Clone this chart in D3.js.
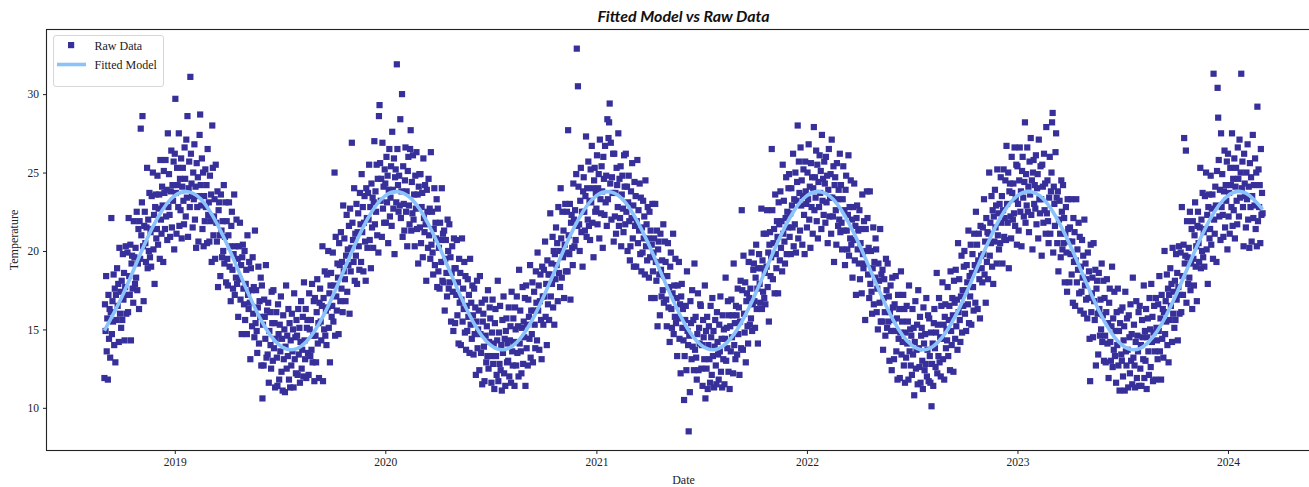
<!DOCTYPE html>
<html><head><meta charset="utf-8">
<script src="https://cdn.jsdelivr.net/npm/d3@7"></script>
<style>body{margin:0;background:#fff}svg{display:block}</style>
</head><body><svg id="c" width="1309" height="487"></svg>
<script>
// ---- DATA ----
// Raw daily temperatures, one inner array per month.
const raw2018 = [ // Sep..Dec 2018
[11.9,16.6,14.9,18.4,13.6,15.7,11.8,17.2,14.4,16.3,13.2,16.1,22.1,14.7,16.8,15.5,18.5,14.0,17.6,12.9,17.2,15.6,18.9,16.5,17.9,14.2,20.2,16.0,17.4,15.1],
[18.1,15.6,19.8,16.9,18.6,14.3,17.7,20.3,16.0,17.2,19.9,16.1,22.1,18.4,17.2,20.4,14.3,19.2,19.7,17.6,16.7,21.9,19.6,17.9,20.2,18.3,22.5,17.5,19.2,21.4,16.3],
[21.9,19.5,27.8,21.0,23.1,28.6,20.3,16.8,21.6,22.5,20.5,19.3,21.5,25.3,18.9,22.0,20.0,23.7,19.6,21.2,19.0,23.5,21.4,25.0,20.1,22.3,17.9,22.8,23.6,20.8],
[21.4,24.8,20.4,22.7,23.6,19.5,25.8,22.0,21.1,24.1,22.9,19.3,25.1,23.7,21.4,25.8,22.2,23.9,20.7,27.5,22.8,24.9,22.3,20.9,23.8,26.4,21.5,24.2,23.2,25.7,20.1]
];
const raw2019 = [
[26.2,29.7,23.7,21.1,25.3,24.2,22.8,27.5,21.6,24.6,22.6,25.9,20.8,24.1,25.3,23.2,21.7,26.6,24.6,22.2,27.1,23.4,28.6,20.9,24.0,25.7,22.8,31.1,26.2,24.3,23.5],
[21.5,25.0,23.3,26.8,22.0,24.1,20.2,25.6,22.8,24.7,20.6,23.5,27.4,28.7,24.2,22.9,25.9,21.4,25.0,20.3,23.5,21.9,25.2,22.8,24.2,20.5,26.5,22.3],
[23.1,20.6,24.8,21.9,23.6,19.3,28.0,25.3,21.0,22.2,23.3,19.5,25.5,21.8,20.6,23.8,17.7,22.6,23.1,21.0,18.4,23.6,21.3,19.6,21.9,20.0,24.2,19.2,20.9,23.1,18.0],
[21.9,19.5,17.8,21.0,23.1,19.0,20.3,16.8,21.6,22.5,18.8,17.6,19.8,23.6,17.2,20.3,18.3,22.0,17.9,19.5,15.8,20.3,18.2,21.8,16.9,19.1,14.7,19.6,20.4,17.6],
[16.6,20.0,15.6,17.9,18.8,14.7,21.0,17.2,16.3,19.3,16.7,13.1,18.9,17.5,15.2,19.6,16.0,17.7,14.5,21.3,15.4,17.5,14.9,13.5,16.4,19.0,14.1,16.8,15.8,18.3,12.7],
[17.8,10.6,15.3,12.7,16.9,15.8,14.4,19.1,13.2,16.2,13.4,16.7,11.6,14.9,16.1,14.0,12.5,17.4,15.4,13.0,17.5,13.8,15.4,11.3,14.4,16.1,13.2,11.4,16.6,14.7],
[11.8,15.3,13.6,17.1,12.3,14.4,11.1,15.9,13.1,15.0,11.0,13.9,17.8,12.5,14.6,13.3,16.3,11.8,15.4,11.3,14.3,12.7,16.0,13.6,15.0,11.3,17.3,13.1,14.5,12.2,15.6],
[14.6,12.1,16.3,13.4,15.1,11.6,14.2,16.8,12.5,13.7,15.8,12.0,18.0,14.3,13.1,16.3,11.9,15.1,15.6,13.5,12.1,17.3,15.0,13.3,15.6,13.7,17.9,12.9,14.6,16.8,11.7],
[17.0,14.6,12.9,16.1,18.2,14.1,15.4,11.9,16.7,17.6,15.5,14.3,16.5,20.3,11.7,17.0,15.0,18.7,14.6,16.2,14.0,18.5,16.4,20.0,15.1,17.3,12.9,17.8,18.6,15.8],
[16.5,19.9,15.5,17.8,25.0,14.6,20.9,17.1,16.2,19.2,18.3,14.7,20.5,19.1,16.8,21.2,17.6,19.3,16.1,22.9,18.7,20.8,18.2,16.8,19.7,22.3,17.4,20.1,19.1,21.6,16.0],
[22.7,18.7,20.2,26.9,21.8,20.7,19.3,24.0,18.1,21.1,19.7,23.0,17.9,21.2,22.4,20.3,18.8,23.7,21.7,19.3,24.9,21.2,22.8,18.7,21.8,23.5,20.6,18.1,24.0,22.1],
[20.2,23.7,22.0,25.5,20.7,22.8,18.9,24.3,21.5,23.4,20.2,23.1,27.0,21.7,23.8,22.5,25.5,21.0,24.6,19.9,28.6,29.3,25.6,23.2,24.6,20.9,26.9,22.7,24.1,21.8,25.2]
];
const raw2020 = [
[24.3,21.8,26.0,23.1,24.8,20.5,23.9,26.5,22.2,23.4,25.4,21.6,27.6,23.9,22.7,25.9,19.8,24.7,25.2,23.1,31.9,26.5,24.2,22.5,24.8,22.9,28.4,22.1,23.8,30.0,20.9],
[25.4,23.0,21.3,24.5,26.6,22.5,23.8,20.3,25.1,26.0,22.9,21.7,26.5,27.7,21.3,24.4,22.4,26.1,22.0,23.6,20.3,24.8,22.7,26.3,21.4,23.6,19.2,24.1,24.9],
[21.5,24.9,20.5,22.8,23.7,19.6,25.9,22.1,21.2,24.2,21.7,18.1,23.9,22.5,20.2,24.6,21.0,22.7,19.5,26.3,20.4,22.5,19.9,18.5,21.4,24.0,19.1,21.8,20.8,23.3,17.7],
[22.7,18.7,20.2,17.6,21.8,20.7,19.3,24.0,18.1,21.1,18.0,21.3,16.2,19.5,20.7,18.6,17.1,22.0,20.0,17.6,21.7,18.0,19.6,15.5,18.6,20.3,17.4,14.9,20.8,18.9],
[15.4,18.9,17.2,20.7,15.9,18.0,14.1,19.5,16.7,18.6,14.0,16.9,20.8,15.5,17.6,16.3,19.3,14.8,18.4,13.7,16.5,14.9,18.2,15.8,17.2,13.5,19.5,15.3,16.7,14.4,17.8],
[15.9,13.4,17.6,14.7,16.4,12.1,15.5,18.1,13.8,15.0,16.2,12.4,18.4,14.7,13.5,16.7,11.5,15.5,16.0,13.9,11.7,16.9,14.6,12.9,15.2,13.3,17.5,12.5,14.2,16.4],
[15.7,13.3,11.6,14.8,16.9,12.8,14.1,11.2,15.4,16.3,13.3,12.1,14.3,18.1,11.7,14.8,12.8,16.5,12.4,14.0,11.1,15.6,13.5,17.1,12.2,14.4,11.4,14.9,15.7,12.9,14.1],
[13.0,16.4,12.0,14.3,15.2,11.6,17.4,13.6,12.7,15.7,14.2,11.4,16.4,15.0,12.7,17.1,13.5,15.2,12.0,18.8,14.1,16.2,13.6,12.2,15.1,17.7,12.8,15.5,14.5,17.0,11.4],
[17.8,13.8,15.3,12.7,16.9,15.8,14.4,19.1,13.2,16.2,14.7,18.0,12.9,16.2,17.4,15.3,13.8,18.7,16.7,14.3,19.9,16.2,17.8,13.7,16.8,18.5,15.6,13.1,19.0,17.1],
[15.3,18.8,17.1,20.6,15.8,17.9,14.0,19.4,16.6,18.5,15.6,18.5,22.4,17.1,19.2,17.9,20.9,16.4,20.0,15.3,19.8,18.2,21.5,19.1,20.5,16.8,22.8,18.6,20.0,17.7,24.0],
[20.8,18.3,22.5,19.6,21.3,17.0,20.4,23.0,18.7,19.9,22.5,18.7,27.7,21.0,19.8,23.0,16.9,21.8,22.3,20.2,19.1,24.3,22.0,20.3,22.6,20.7,24.9,32.9,21.6,30.5],
[24.1,21.7,20.0,23.2,25.3,21.2,22.5,19.0,23.8,24.7,22.5,21.3,23.5,27.3,20.9,24.0,22.0,25.7,21.6,23.2,20.7,25.2,23.1,26.7,21.8,24.0,19.6,24.5,25.3,22.5,23.7]
];
const raw2021 = [
[22.7,26.1,21.7,24.0,24.9,20.8,27.1,23.3,22.4,25.4,23.8,20.2,26.0,24.6,22.3,26.7,23.1,24.8,21.6,28.4,23.3,27.2,28.2,29.4,24.3,26.9,22.0,24.7,23.7,26.2,20.6],
[26.2,22.2,23.7,21.1,25.3,24.2,22.8,27.5,21.6,24.6,22.1,25.4,20.3,23.6,24.8,22.7,21.2,26.1,24.1,21.7,26.2,22.5,24.1,20.0,23.1,24.8,21.9,19.4],
[20.3,23.8,22.1,25.6,20.8,22.9,19.0,24.4,21.6,23.5,19.0,21.9,25.8,20.5,22.6,21.3,24.3,19.8,23.4,18.7,21.5,19.9,23.2,20.8,22.2,18.5,24.5,20.3,21.7,19.4,22.8],
[20.8,18.3,22.5,19.6,21.3,17.0,20.4,23.0,18.7,19.9,20.8,17.0,23.0,19.3,18.1,21.3,15.2,20.1,20.6,18.5,15.9,21.1,18.8,17.1,19.4,17.5,21.7,16.7,18.4,20.6],
[19.3,16.9,15.2,18.4,20.5,16.4,17.7,14.2,19.0,19.9,16.3,15.1,17.3,21.1,14.7,17.8,15.8,19.5,15.4,17.0,13.3,17.8,15.7,19.3,14.4,16.6,12.2,17.1,17.9,15.1,16.3],
[14.3,10.5,13.3,15.6,16.5,12.4,18.7,14.9,14.0,8.5,14.6,11.0,16.8,15.4,13.1,17.5,13.9,15.6,12.4,19.2,13.7,15.8,13.2,11.8,14.7,17.3,12.4,15.1,14.1,16.6],
[16.5,12.5,14.0,11.4,15.6,14.5,13.1,17.8,10.6,14.9,12.5,15.8,11.2,14.0,15.2,13.1,11.6,16.5,14.5,12.1,17.0,13.3,14.9,11.3,13.9,15.6,12.7,11.5,16.1,14.2,13.4],
[11.8,15.3,13.6,17.1,12.3,14.4,11.3,15.9,13.1,15.0,11.5,14.4,18.3,13.0,15.1,13.8,16.8,12.3,15.9,11.2,15.2,13.6,16.9,14.5,15.9,12.2,19.2,14.0,15.4,13.1,16.5],
[15.9,13.4,17.6,14.7,16.4,12.1,15.5,18.1,13.8,22.6,17.5,13.7,19.7,16.0,14.8,18.0,12.9,16.8,17.3,15.2,14.1,19.3,17.0,15.3,17.6,15.7,19.9,14.9,16.6,18.8],
[19.2,16.8,15.1,18.3,20.4,16.3,17.6,14.1,18.9,19.8,17.9,16.7,18.9,22.7,16.3,19.4,17.4,21.1,17.0,18.6,16.6,21.1,19.0,22.6,17.7,19.9,15.5,20.4,21.2,18.4,19.6],
[26.5,22.6,18.2,20.5,21.4,17.3,23.6,19.8,18.9,21.9,20.9,17.3,23.1,21.7,19.4,23.8,20.2,21.9,18.7,25.5,21.1,23.2,20.6,19.2,22.1,24.7,19.8,22.5,21.5,24.0],
[24.9,20.9,22.4,19.8,24.0,22.9,21.5,26.2,20.3,23.3,21.7,25.0,19.9,23.2,24.4,28.0,20.8,25.7,23.7,21.3,26.6,22.9,24.5,20.4,23.5,25.2,22.3,19.8,25.7,23.8,23.0]
];
const raw2022 = [
[21.5,25.0,23.3,26.8,22.0,24.1,20.2,25.6,22.8,24.7,21.1,24.0,27.9,22.6,24.7,23.4,26.4,21.9,25.5,20.8,24.4,22.8,26.1,23.7,25.1,21.4,27.4,23.2,24.6,22.3,25.7],
[24.3,21.8,26.0,23.1,24.8,20.5,23.9,26.5,22.2,23.4,24.9,21.1,27.1,23.4,22.2,25.4,19.3,24.2,24.7,22.6,20.4,25.6,23.3,21.6,23.9,22.0,26.2,21.2],
[24.2,21.8,20.1,23.3,25.4,21.3,22.6,19.1,23.9,24.8,21.3,20.1,22.3,26.1,19.7,22.8,20.8,24.5,20.4,22.0,18.3,22.8,20.7,24.3,19.4,21.6,17.2,22.1,22.9,20.1,21.3],
[19.2,22.6,18.2,20.5,21.4,17.3,23.6,19.8,18.9,21.9,19.2,15.6,21.4,20.0,23.8,22.1,18.5,20.2,17.0,23.8,17.9,20.0,17.4,16.0,18.9,21.5,16.6,19.3,18.3,20.8],
[20.1,16.1,17.6,15.0,19.2,18.1,16.7,21.4,15.5,18.5,15.5,18.8,13.7,17.0,18.2,16.1,14.6,19.5,17.5,15.1,19.2,15.5,17.1,13.0,16.1,17.8,14.9,12.4,18.3,16.4,15.6],
[13.1,16.6,14.9,18.4,13.6,15.7,11.8,17.2,14.4,16.3,11.9,14.8,18.7,13.4,15.5,14.2,17.2,12.7,16.3,11.6,14.8,13.2,16.5,14.1,15.5,11.8,17.8,13.6,15.0,12.7],
[14.6,12.1,16.3,13.4,15.1,10.8,14.2,16.8,12.5,13.7,15.3,11.5,17.5,13.8,12.6,15.8,11.6,14.6,15.1,13.0,11.2,16.4,14.1,12.4,14.7,12.8,17.0,12.0,13.7,15.9,11.7],
[15.7,13.3,11.6,14.8,10.1,12.8,14.1,11.4,15.4,16.3,13.8,12.6,14.8,18.6,12.2,15.3,13.3,17.0,12.9,14.5,12.0,16.5,14.4,18.0,13.1,15.3,11.8,15.8,16.6,13.8,15.0],
[14.3,17.7,13.3,15.6,16.5,12.4,18.7,14.9,14.0,17.0,15.9,12.3,18.1,16.7,14.4,18.8,15.2,16.9,13.7,20.5,16.1,18.2,15.6,14.2,17.1,19.7,14.8,17.5,16.5,19.0],
[20.0,16.0,17.5,14.9,19.1,18.0,16.6,21.3,15.4,18.4,17.1,20.4,15.3,18.6,19.8,17.7,16.2,21.1,19.1,16.7,22.5,18.8,20.4,16.3,19.4,21.1,18.2,15.7,21.6,19.7,18.9],
[18.0,21.5,19.8,23.3,18.5,20.6,16.7,22.1,19.3,21.2,18.2,21.1,25.0,19.7,21.8,20.5,23.5,19.0,22.6,17.9,22.2,20.6,23.9,21.5,22.9,19.2,25.2,21.0,22.4,20.1],
[23.0,20.5,24.7,21.8,23.5,19.2,22.6,25.2,20.9,22.1,24.5,20.7,26.7,23.0,21.8,25.0,18.9,23.8,24.3,22.2,20.8,26.0,23.7,22.0,24.3,22.4,26.6,21.6,23.3,25.5,20.4]
];
const raw2023 = [
[25.4,23.0,21.3,24.5,26.6,22.5,23.8,20.3,25.1,26.0,23.4,22.2,24.4,28.2,21.8,24.9,22.9,26.6,22.5,24.1,21.2,25.7,23.6,27.2,22.3,24.5,20.1,25.0,25.8,23.0,24.2],
[22.7,26.1,21.7,24.0,24.9,20.8,27.1,23.3,22.4,25.4,23.3,19.7,25.5,24.1,21.8,26.2,22.6,24.3,21.1,27.9,22.4,24.5,21.9,20.5,23.4,26.0,21.1,23.8],
[25.0,28.2,28.8,19.9,24.1,23.0,21.6,26.3,27.5,23.4,20.5,23.8,18.7,22.0,23.2,21.1,19.6,24.5,22.5,20.1,24.2,20.5,22.1,18.0,21.1,22.8,19.9,17.4,23.3,21.4,20.6],
[18.0,21.5,19.8,23.3,18.5,20.6,16.7,22.1,19.3,21.2,16.5,19.4,23.3,18.0,20.1,18.8,21.8,17.3,20.9,16.2,19.0,17.4,20.7,18.3,19.7,16.0,22.0,17.8,19.2,16.9],
[18.2,15.7,19.9,17.0,18.7,14.4,11.7,20.4,16.1,17.3,18.3,14.5,20.5,16.8,15.6,18.8,12.7,17.6,18.1,16.0,13.4,18.6,16.3,14.6,16.9,15.0,19.2,14.2,15.9,18.1,13.0],
[17.0,14.6,12.9,16.1,18.2,14.1,15.4,11.9,16.7,17.6,14.2,13.0,15.2,19.0,12.6,15.7,13.7,17.4,13.3,14.9,11.6,16.1,14.0,17.6,12.7,14.9,11.1,15.4,16.2,13.4],
[13.0,16.4,12.0,14.3,15.2,11.1,17.4,13.6,12.7,15.7,13.7,11.3,15.9,14.5,12.2,16.6,13.0,14.7,11.5,18.3,13.2,15.3,12.7,11.3,14.2,16.8,11.9,14.6,13.6,16.1,11.4],
[16.5,12.5,14.0,11.4,15.6,14.5,13.1,17.8,11.9,14.9,13.0,16.3,11.2,14.5,15.7,13.6,12.1,17.0,15.0,12.6,17.9,14.2,15.8,11.7,14.8,16.5,13.6,11.8,17.0,15.1,14.3],
[13.1,16.6,14.9,18.4,13.6,15.7,11.8,17.2,14.4,16.3,13.2,16.1,20.0,14.7,16.8,15.5,18.5,14.0,17.6,12.9,17.2,15.6,18.9,16.5,17.9,14.2,20.2,16.0,17.4,15.1],
[18.1,15.6,19.8,16.9,18.6,14.3,17.7,20.3,16.0,17.2,19.9,16.1,22.8,18.4,17.2,20.4,27.2,19.2,19.7,26.4,16.7,21.9,19.6,17.9,20.2,18.3,22.5,17.5,19.2,21.4,16.3],
[21.9,19.5,17.8,21.0,23.1,19.0,20.3,16.8,21.6,22.5,20.5,19.3,21.5,25.3,18.9,22.0,20.0,23.7,19.6,21.2,19.0,23.5,21.4,25.0,20.1,22.3,17.9,22.8,23.6,20.8],
[21.4,24.8,20.4,22.7,23.6,19.5,31.3,22.0,21.1,24.1,22.9,19.3,25.1,30.4,28.5,25.8,22.2,23.9,20.7,27.5,22.8,24.9,22.3,20.9,23.8,26.4,21.5,24.2,23.2,25.7,20.1]
];
const raw2024 = [
[26.2,22.2,23.7,21.1,25.3,24.2,22.8,27.5,21.6,24.6,22.6,25.9,20.8,24.1,25.3,23.2,21.7,26.6,24.6,22.2,27.1,23.4,25.0,31.3,24.0,25.7,22.8,20.3,26.2,24.3,23.5],
[21.5,25.0,23.3,26.8,22.0,24.1,20.2,25.6,22.8,24.7,20.6,23.5,27.4,22.1,24.2,22.9,25.9,21.4,25.0,20.3,29.2,21.9,25.2,22.8,24.2,20.5,26.5,22.3,23.7],
[22.4]
];
// Fitted model, value on the 1st of each month from Sep 2018 to Mar 2024.
const fitStart = [2018, 8];
const fitValues = [
14.93,17.05,19.70,22.03,
23.53,23.69,22.65,20.48,17.92,15.50,14.01,13.78,14.93,17.05,19.70,22.03,
23.53,23.69,22.65,20.48,17.92,15.50,14.01,13.78,14.93,17.05,19.70,22.03,
23.53,23.69,22.65,20.48,17.92,15.50,14.01,13.78,14.93,17.05,19.70,22.03,
23.53,23.69,22.65,20.48,17.92,15.50,14.01,13.78,14.93,17.05,19.70,22.03,
23.53,23.69,22.65,20.48,17.92,15.50,14.01,13.78,14.93,17.05,19.70,22.03,
23.53,23.69,22.65
];
const yTicks = [10, 15, 20, 25, 30];
const xTickYears = [2019, 2020, 2021, 2022, 2023, 2024];
const titleText = "Fitted Model vs Raw Data";
const xLabel = "Date", yLabel = "Temperature";
const legendLabels = ["Raw Data", "Fitted Model"];

// ---- CHART ----
const L = 46.5, R = 1320.5, T = 29.5, B = 450.5;
const ptColor = "#37309a", lineColor = "#8ac2fb";
const serif = "'Liberation Serif','Times New Roman',serif";

const raw = [];
[[2018, 8, raw2018], [2019, 0, raw2019], [2020, 0, raw2020], [2021, 0, raw2021],
 [2022, 0, raw2022], [2023, 0, raw2023], [2024, 0, raw2024]].forEach(([yr, m0, months]) =>
  months.forEach((vals, mi) => vals.forEach((v, di) =>
    raw.push({date: new Date(yr, m0 + mi, di + 1), value: v}))));
const fit = fitValues.map((v, i) => ({date: new Date(fitStart[0], fitStart[1] + i, 1), value: v}));

const all = raw.concat(fit);
const [d0, d1] = d3.extent(all, d => d.date);
const tp = (d1 - d0) * 0.05;
const x = d3.scaleTime().domain([new Date(+d0 - tp), new Date(+d1 + tp)]).range([L, R]);
const [v0, v1] = d3.extent(all, d => d.value);
const vp = (v1 - v0) * 0.05;
const y = d3.scaleLinear().domain([v0 - vp, v1 + vp]).range([B, T]);

const svg = d3.select("#c");
svg.append("rect").attr("width", 1309).attr("height", 487).attr("fill", "#fff");

// points
const s = 6.2;
svg.append("g").selectAll("rect").data(raw).join("rect")
  .attr("x", d => x(d.date) - s / 2).attr("y", d => y(d.value) - s / 2)
  .attr("width", s).attr("height", s).attr("fill", ptColor);

// fitted line
svg.append("path").datum(fit)
  .attr("d", d3.line().x(d => x(d.date)).y(d => y(d.value)).curve(d3.curveNatural))
  .attr("fill", "none").attr("stroke", lineColor).attr("stroke-width", 3.6)
  .attr("stroke-linecap", "butt");

// axes
const xAxis = d3.axisBottom(x)
  .tickValues(xTickYears.map(yy => new Date(yy, 0, 1)))
  .tickFormat(d3.timeFormat("%Y")).tickSize(3.5).tickPadding(4).tickSizeOuter(0);
const gx = svg.append("g").attr("transform", `translate(0,${B})`).call(xAxis);
const yAxis = d3.axisLeft(y).tickValues(yTicks).tickSize(3.5).tickPadding(4).tickSizeOuter(0);
const gy = svg.append("g").attr("transform", `translate(${L},0)`).call(yAxis);
[gx, gy].forEach(g => {
  g.select(".domain").remove();
  g.selectAll(".tick line").attr("stroke", "#222").attr("stroke-width", 1);
  g.selectAll(".tick text").attr("fill", "#222").style("font-family", serif).style("font-size", "11.5px");
});

// spines
const sp = svg.append("g").attr("stroke", "#222").attr("stroke-width", 1.1).attr("fill", "none");
sp.append("rect").attr("x", L).attr("y", T).attr("width", R - L).attr("height", B - T);

// labels
svg.append("text").attr("x", (L + R) / 2).attr("y", 22).attr("text-anchor", "middle")
  .style("font-family", "Lato, 'Open Sans', sans-serif").style("font-weight", "bold")
  .style("font-style", "italic").style("font-size", "16px").attr("fill", "#111").text(titleText);
svg.append("text").attr("x", (L + R) / 2).attr("y", 484).attr("text-anchor", "middle")
  .style("font-family", serif).style("font-size", "12px").attr("fill", "#222").text(xLabel);
svg.append("text").attr("transform", `translate(18,${(T + B) / 2}) rotate(-90)`)
  .attr("text-anchor", "middle").style("font-family", serif).style("font-size", "12px")
  .attr("fill", "#222").text(yLabel);

// legend
const lg = svg.append("g");
lg.append("rect").attr("x", 53.5).attr("y", 35.5).attr("width", 110).attr("height", 51)
  .attr("rx", 2.5).attr("fill", "#fff").attr("fill-opacity", 0.85).attr("stroke", "#d6d6d6");
lg.append("rect").attr("x", 68).attr("y", 42).attr("width", 6.2).attr("height", 6.2).attr("fill", ptColor);
lg.append("line").attr("x1", 57).attr("x2", 86).attr("y1", 64.5).attr("y2", 64.5)
  .attr("stroke", lineColor).attr("stroke-width", 3.6);
legendLabels.forEach((t, i) => lg.append("text").attr("x", 94.5).attr("y", 50 + i * 18.5)
  .style("font-family", serif).style("font-size", "12px").attr("fill", "#222").text(t));
</script></body></html>
